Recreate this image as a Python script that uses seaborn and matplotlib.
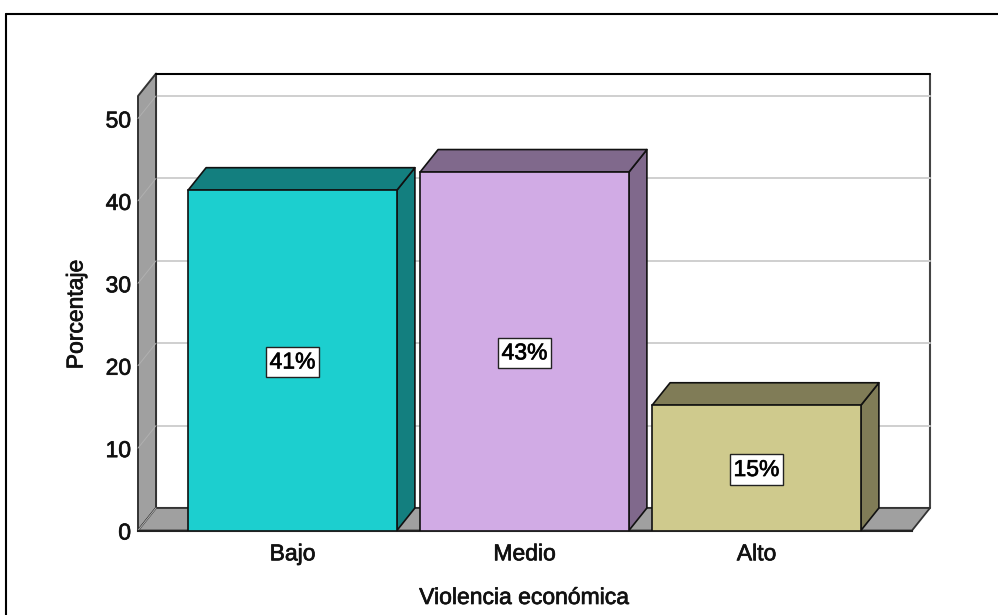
import matplotlib
matplotlib.use('Agg')
import pandas as pd
import seaborn as sns
import matplotlib.pyplot as plt
import matplotlib.patheffects as pe
from matplotlib.patches import Polygon
from matplotlib.lines import Line2D

# values
categorias = ['Bajo', 'Medio', 'Alto']
porcentajes = [41.3, 43.5, 15.2]
etiquetas = ['41%', '43%', '15%']
colores = ['#1ccfcf', '#d1abe5', '#cfca8d']
lados = ['#137f7f', '#80698c', '#807c57']
marcas_y = [0, 10, 20, 30, 40, 50]

df = pd.DataFrame({'nivel': categorias, 'pct': porcentajes})

W, H = 998, 615
sns.set_theme(style='white')
plt.rcParams['font.family'] = ['Liberation Sans', 'DejaVu Sans']

fig = plt.figure(figsize=(W / 100, H / 100), dpi=100)
# front plane of the 3d box, in pixels
x0, x1, y0, y1 = 138, 912, 530.5, 96
ax = fig.add_axes([x0 / W, 1 - y0 / H, (x1 - x0) / W, (y0 - y1) / H])

sns.barplot(data=df, x='nivel', y='pct', hue='nivel', palette=colores, legend=False,
            width=0.9, saturation=1, edgecolor='#111111', linewidth=1.2, ax=ax, zorder=5)

paso_x = 232.0
paso_y = 8.24
ax.set_xlim(-(292.5 - x0) / paso_x, 2 + (x1 - 756.5) / paso_x)
ax.set_ylim(0, (y0 - y1) / paso_y)
xa, xb = ax.get_xlim()
top = ax.get_ylim()[1]

# depth of the box in data units
dx = 18 / paso_x
dy = 22.5 / paso_y

# thin outline gives the heavier look of the original text
grueso = [pe.withStroke(linewidth=0.5, foreground='#111111')]


def cara(puntos, color, ec='#222222', lw=1.0, z=1):
    ax.add_patch(Polygon(puntos, closed=True, facecolor=color, edgecolor=ec, linewidth=lw,
                         zorder=z, clip_on=False, joinstyle='round'))


# back wall, left wall and floor
cara([(xa + dx, dy), (xb + dx, dy), (xb + dx, top + dy), (xa + dx, top + dy)], 'white', ec='#444444', lw=1.5)
cara([(xa, 0), (xa + dx, dy), (xa + dx, top + dy), (xa, top)], '#a0a0a0', ec='#333333', lw=1.4, z=2)
cara([(xa, 0), (xb, 0), (xb + dx, dy), (xa + dx, dy)], '#a0a0a0', ec='#333333', lw=1.3, z=2)
ax.add_line(Line2D([xa + dx, xb + dx], [top + dy, top + dy], color='black', lw=1.4, zorder=3, clip_on=False))

# gridlines run along the back wall and down the left wall
for v in marcas_y[1:]:
    ax.add_line(Line2D([xa + dx, xb + dx], [v + dy, v + dy], color='#cfcfcf', lw=1.4, zorder=1.5, clip_on=False))
    ax.add_line(Line2D([xa, xa + dx], [v, v + dy], color='#b0b0b0', lw=0.7, zorder=2.5, clip_on=False))
ax.add_line(Line2D([xa, xa + dx], [0, dy], color='#b0b0b0', lw=0.7, zorder=2.5, clip_on=False))

# side and top of each bar
for barra, lado, texto in zip(ax.patches[:3], lados, etiquetas):
    bx0 = barra.get_x()
    bx1 = bx0 + barra.get_width()
    h = barra.get_height()
    cara([(bx1, 0), (bx1 + dx, dy), (bx1 + dx, h + dy), (bx1, h)], lado, ec='#111111', lw=1.2, z=4)
    cara([(bx0, h), (bx1, h), (bx1 + dx, h + dy), (bx0 + dx, h + dy)], lado, ec='#111111', lw=1.2, z=4)
    ax.text((bx0 + bx1) / 2, h / 2 - 0.2, texto, ha='center', va='center', fontsize=16.5,
            color='black', zorder=7, path_effects=grueso,
            bbox=dict(boxstyle='square,pad=0.16', facecolor='white', edgecolor='#222222', linewidth=1.0))

for s in ['top', 'right', 'left']:
    ax.spines[s].set_visible(False)
ax.spines['bottom'].set_color('#222222')
ax.spines['bottom'].set_linewidth(1.5)
ax.spines['bottom'].set_zorder(3)

ax.set_yticks(marcas_y)
ax.tick_params(axis='y', length=0, pad=5, labelsize=16.5)
ax.tick_params(axis='x', length=0, pad=8.5, labelsize=16.5)
ax.set_xlabel('')
ax.set_ylabel('')
for t in ax.get_yticklabels() + ax.get_xticklabels():
    t.set_color('#111111')
    t.set_path_effects(grueso)

fig.text(524 / W, 1 - 597.5 / H, 'Violencia económica', ha='center', va='center', fontsize=16.5,
         color='#111111', path_effects=grueso)
fig.text(76 / W, 1 - 314.5 / H, 'Porcentaje', ha='center', va='center', rotation=90, fontsize=16.5,
         color='#111111', path_effects=grueso)

# picture frame: only top and left show
fig.add_artist(Line2D([5.5 / W, 5.5 / W], [0, 1 - 14 / H], color='black', lw=1.5))
fig.add_artist(Line2D([5.5 / W, 1], [1 - 14 / H, 1 - 14 / H], color='black', lw=1.5))

fig.savefig('out.png', dpi=100, facecolor='white')
